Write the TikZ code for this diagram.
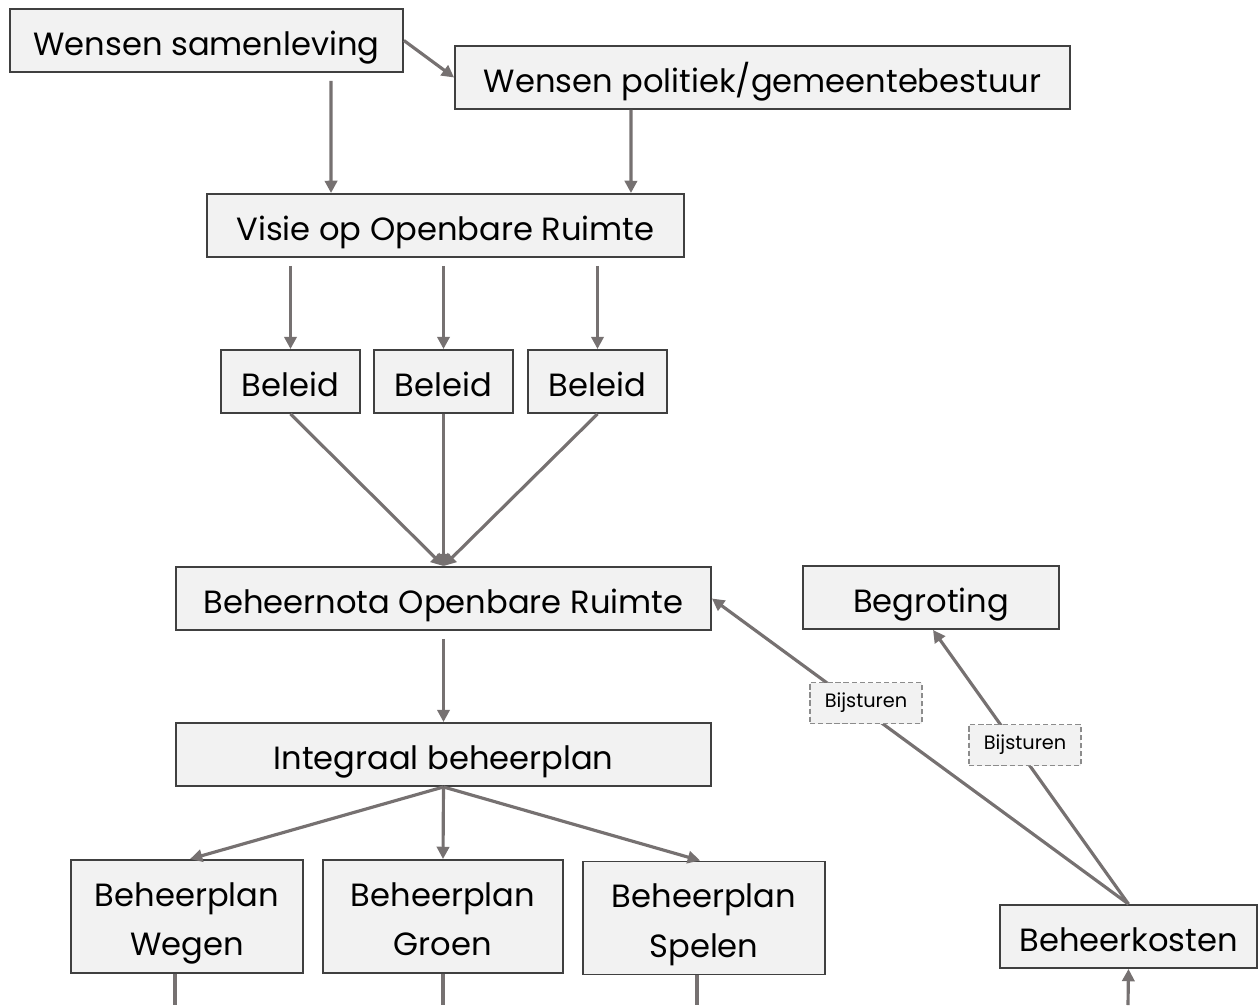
\documentclass[tikz,border=0pt]{standalone}
\usepackage{fontspec}
\setmainfont{Poppins}
\usetikzlibrary{arrows.meta,positioning}
\definecolor{boxfill}{HTML}{F2F2F2}
\definecolor{boxline}{HTML}{404040}
\definecolor{linkgray}{HTML}{767171}
\definecolor{dashgray}{HTML}{8C8C8C}

\begin{document}
\begin{tikzpicture}[x=0.02cm,y=-0.02cm,font=\fontsize{18.3}{28.4}\selectfont]
  %----- styles
  \tikzset{
    box/.style    ={draw=boxline,fill=boxfill,line width=1.1pt,minimum height=1.26cm,inner sep=0pt,align=center,text height=19pt,text depth=2.5pt},
    planbox/.style={box,minimum height=2.26cm,text height=47.4pt},
    tag/.style    ={draw=dashgray,dash pattern=on 3pt off 1.6pt,fill=boxfill,line width=0.8pt,minimum width=2.24cm,minimum height=0.82cm,inner sep=0pt,font=\fontsize{11}{13}\selectfont},
    link/.style   ={draw=linkgray,line width=1.8pt},
    arrow/.style  ={link,-{Triangle[length=7pt,width=7pt]}}
  }
  \useasboundingbox (0,0) rectangle (1258,1005);

  %----- nodes
  % top: wishes
  \node[box,minimum width=7.86cm] (samen) at (206.5,40.5) {Wensen samenleving};
  \node[box,minimum width=12.3cm] (polit) at (762.5,77.5) {Wensen politiek/gemeentebestuur};

  % vision and policies
  \node[box,minimum width=9.54cm] (visie) at (445.5,225.5) {Visie op Openbare Ruimte};
  \node[box,minimum width=2.78cm] (b1) at (290.5,381.5) {Beleid};
  \node[box,minimum width=2.78cm] (b2) at (443.5,381.5) {Beleid};
  \node[box,minimum width=2.78cm] (b3) at (597.5,381.5) {Beleid};

  % management
  \node[box,minimum width=10.7cm] (nota) at (443.5,598.5) {Beheernota Openbare Ruimte};
  \node[box,minimum width=10.7cm] (integraal) at (443.5,754.5) {Integraal beheerplan};
  \node[planbox,minimum width=4.64cm] (wegen) at (187,916.5) {Beheerplan\\Wegen};
  \node[planbox,minimum width=4.8cm] (groen) at (443,916.5) {Beheerplan\\Groen};
  \node[planbox,minimum width=4.84cm] (spelen) at (704,918) {Beheerplan\\Spelen};

  % right side: money
  \node[box,minimum width=5.12cm] (begroting) at (931,597.5) {Begroting};
  \node[box,minimum width=5.14cm] (kosten) at (1128.5,936.5) {Beheerkosten};

  % loose ends at the bottom
  \coordinate (wegenend) at (175,1005);
  \coordinate (groenend) at (443,1005);
  \coordinate (spelenend) at (697,1005);
  \coordinate (kostenin) at (1128,1005);

  %----- connections
  \draw[arrow] (samen.east) -- (polit.west);
  \draw[arrow,shorten <=0.16cm] ([xshift=2.49cm]samen.south) -- ([xshift=-2.29cm]visie.north);
  \draw[arrow] ([xshift=-2.63cm]polit.south) -- ([xshift=3.71cm]visie.north);

  % vision -> policies
  \foreach \b in {b1,b2,b3}
    \draw[arrow,shorten <=0.16cm] (visie.south -| \b.north) -- (\b.north);

  % policies -> nota
  \foreach \b in {b1,b2,b3}
    \draw[arrow] (\b.south) -- (nota.north);

  \draw[arrow,shorten <=0.16cm] (nota.south) -- (integraal.north);

  % integraal -> plans
  \draw[arrow] (integraal.south) -- ([xshift=0.06cm]wegen.north);
  \draw[arrow] (integraal.south) -- (groen.north);
  \draw[arrow] (integraal.south) -- ([xshift=-0.08cm]spelen.north);

  \draw[link] (wegen.south -| wegenend) -- (wegenend);
  \draw[link] (groen.south -| groenend) -- (groenend);
  \draw[link] (spelen.south -| spelenend) -- (spelenend);

  % costs feed back
  \draw[arrow] (kostenin) -- (kosten.south);
  \draw[arrow] (kosten.north) -- (nota.east)
    node[tag,pos=0.63,yshift=0.17cm] (bij1) {Bijsturen};
  \draw[arrow] (kosten.north) -- ([xshift=0.04cm]begroting.south)
    node[tag,pos=0.58,xshift=0.2cm] (bij2) {Bijsturen};

\end{tikzpicture}
\end{document}
